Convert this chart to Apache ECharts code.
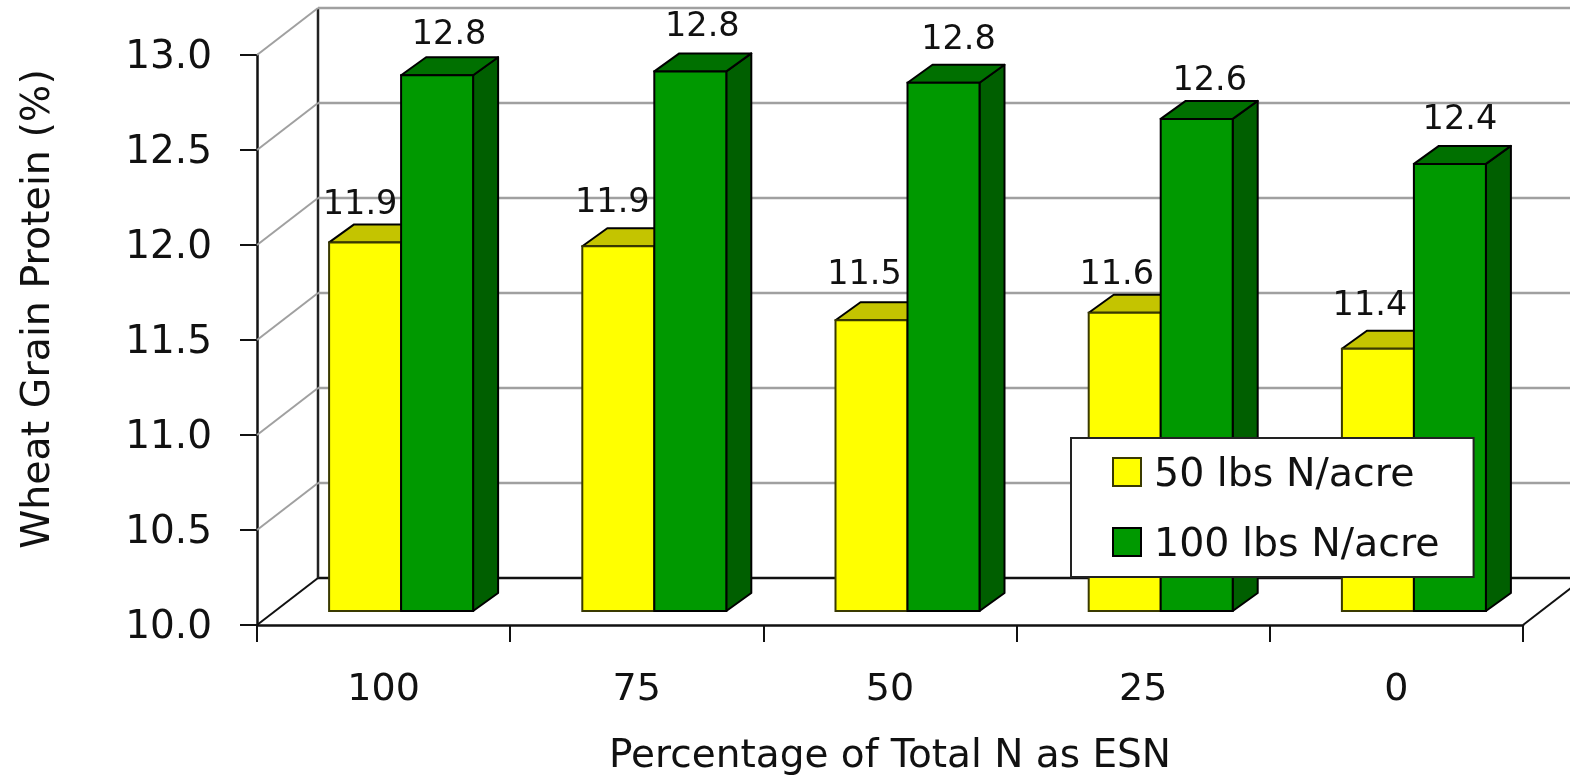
<!DOCTYPE html>
<html>
<head>
<meta charset="utf-8">
<style>html,body{margin:0;padding:0;background:#fff}#c{width:1570px;height:777px}</style>
<script src="https://cdn.jsdelivr.net/npm/echarts@6/dist/echarts.min.js"></script>
</head>
<body>
<div id="c"></div>
<script>
const categories = ['100', '75', '50', '25', '0'];
const lowRate = [11.94, 11.92, 11.53, 11.57, 11.38];
const highRate = [12.82, 12.84, 12.78, 12.59, 12.353];
const lowName = '50 lbs N/acre';
const highName = '100 lbs N/acre';
const yTicks = [10, 10.5, 11, 11.5, 12, 12.5, 13];
const xTitle = 'Percentage of Total N as ESN';
const yTitle = 'Wheat Grain Protein (%)';

// label placement relative to the bar's top centre
const lowLabelNudge = [[-5, -37], [-6, -43], [-7, -45], [-8, -37], [-8, -43]];
const highLabelNudge = [[12, -40], [12, -44], [15, -43], [13, -38], [10, -44]];

const FONT = '"DejaVu Sans"';
const WALL_DX = 61, WALL_DY = -47;
const BAR_DX = 17.5, BAR_DY = -14;
const DEPTH_DX = 25, DEPTH_DY = -18;
const WIDTH_RATIO = 72 / 253.2;

function barSeries(name, values, nudges, side, colors) {
  return {
    name, type: 'custom', z: 3,
    itemStyle: { color: colors.front, borderColor: colors.edge, borderWidth: 1.5 },
    data: values.map((v, i) => [i, v, i]),
    renderItem(params, api) {
      const idx = api.value(2);
      const top = api.coord([api.value(0), api.value(1)]);
      const base = api.coord([api.value(0), 10]);
      const w = api.size([1, 0])[0] * WIDTH_RATIO;
      const l = top[0] + BAR_DX + (side === 0 ? -w : 0);
      const r = l + w;
      const t = top[1] + BAR_DY, b = base[1] + BAR_DY;
      const st = c => ({ fill: c, stroke: '#000', lineWidth: 2, lineJoin: 'round' });
      const n = nudges[idx];
      return { type: 'group', children: [
        { type: 'polygon', shape: { points: [[r, t], [r + DEPTH_DX, t + DEPTH_DY], [r + DEPTH_DX, b + DEPTH_DY], [r, b]] }, style: st(colors.side) },
        { type: 'polygon', shape: { points: [[l, t], [l + DEPTH_DX, t + DEPTH_DY], [r + DEPTH_DX, t + DEPTH_DY], [r, t]] }, style: st(colors.top) },
        { type: 'rect', shape: { x: l, y: t, width: w, height: b - t }, style: { fill: colors.front, stroke: colors.edge, lineWidth: 2 } },
        { type: 'text', style: { x: (l + r) / 2 + n[0], y: t + n[1], text: api.value(1).toFixed(1), textAlign: 'center', textVerticalAlign: 'middle', font: '33.5px ' + FONT, fill: '#111' } }
      ] };
    }
  };
}

const wallSeries = {
  type: 'custom', z: 1, silent: true, legendHoverLink: false,
  data: yTicks.map(v => [0, v]),
  renderItem(params, api) {
    const cs = params.coordSys;
    const v = api.value(1);
    const y = api.coord([0, v])[1];
    const x0 = cs.x, x1 = cs.x + WALL_DX, yb = y + WALL_DY;
    const isFloor = v === yTicks[0];
    const stroke = isFloor ? '#111' : '#a0a0a0';
    const kids = [
      { type: 'line', shape: { x1: x0, y1: y, x2: x1, y2: yb }, style: { stroke, lineWidth: 2 } },
      { type: 'line', shape: { x1, y1: yb, x2: 1570, y2: yb }, style: { stroke, lineWidth: 2.5 } }
    ];
    if (isFloor) {
      const rx = cs.x + cs.width;
      kids.push({ type: 'line', shape: { x1: rx, y1: y, x2: rx + WALL_DX, y2: yb }, style: { stroke: '#111', lineWidth: 2 } });
      const topY = api.coord([0, yTicks[yTicks.length - 1]])[1] + WALL_DY;
      kids.push({ type: 'line', shape: { x1, y1: yb, x2: x1, y2: topY }, style: { stroke: '#222', lineWidth: 2.5 } });
    }
    return { type: 'group', children: kids };
  }
};

const chart = echarts.init(document.getElementById('c'));
chart.setOption({
  animation: false,
  backgroundColor: '#fff',
  grid: { left: 257, right: 47, top: 55, bottom: 152, outerBoundsMode: 'none' },
  xAxis: {
    type: 'category', data: categories, boundaryGap: true,
    name: xTitle, nameLocation: 'middle', nameGap: 112,
    nameTextStyle: { fontFamily: FONT, fontSize: 39, color: '#111' },
    axisLine: { onZero: false, lineStyle: { color: '#111', width: 2.5 } },
    axisTick: { show: true, length: 17, alignWithLabel: false, lineStyle: { color: '#111', width: 2 } },
    axisLabel: { fontFamily: FONT, fontSize: 38, color: '#111', margin: 46 },
    splitLine: { show: false }
  },
  yAxis: {
    type: 'value', min: 10, max: 13, interval: 0.5,
    name: yTitle, nameLocation: 'middle', nameGap: 198, nameRotate: 90,
    nameTextStyle: { fontFamily: FONT, fontSize: 39.5, color: '#111', padding: [0, 0, 0, 62] },
    axisLine: { show: true, lineStyle: { color: '#111', width: 2.5 } },
    axisTick: { show: true, length: 17, lineStyle: { color: '#111', width: 2 } },
    axisLabel: {
      margin: 45,
      formatter: v => '{t|' + v.toFixed(1) + '}',
      rich: { t: { fontFamily: FONT, fontSize: 39, color: '#111', padding: [5, 0, 0, 0] } }
    },
    splitLine: { show: false }
  },
  legend: {
    orient: 'vertical', left: 1071, top: 438,
    padding: [10, 34, 11, 41], itemWidth: 28, itemHeight: 28, itemGap: 22,
    backgroundColor: '#fff', borderColor: '#222', borderWidth: 2, borderRadius: 0,
    icon: 'rect', selectedMode: false,
    formatter: name => '{t|' + name + '}',
    textStyle: {
      rich: { t: { fontFamily: FONT, fontSize: 39.5, lineHeight: 32, color: '#111', padding: [8, 0, 0, 8] } }
    },
    data: [lowName, highName]
  },
  series: [
    wallSeries,
    barSeries(lowName, lowRate, lowLabelNudge, 0, { front: '#ffff00', top: '#c4c400', side: '#a0a000', edge: '#3a3a00' }),
    barSeries(highName, highRate, highLabelNudge, 1, { front: '#009900', top: '#007000', side: '#005f00', edge: '#000' })
  ]
});
</script>
</body>
</html>
